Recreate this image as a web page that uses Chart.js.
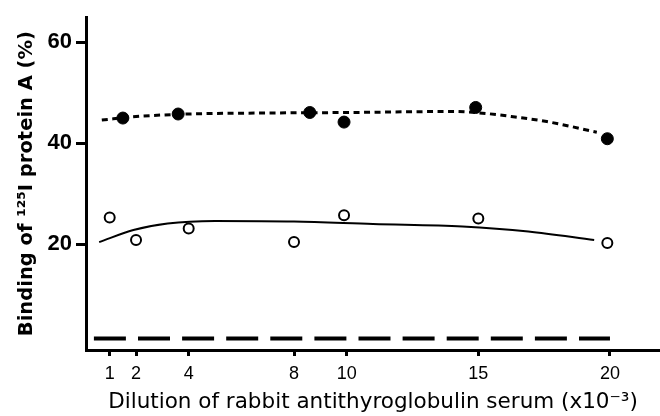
<!DOCTYPE html>
<html>
<head>
<meta charset="utf-8">
<script src="https://cdn.jsdelivr.net/npm/chart.js@4.4.0/dist/chart.umd.min.js"></script>
<style>
html, body { margin:0; padding:0; background:#fff; }
#wrap { width:660px; height:416px; }
</style>
</head>
<body>
<div id="wrap"><canvas id="myChart"></canvas></div>
<script>
// tick labels
var xTicks = [1, 2, 4, 8, 10, 15, 20];
var yTicks = [20, 40, 60];

// filled circles
var xFilled = [1.5, 3.6, 8.6, 9.9, 14.9, 19.9];
var yFilled = [45.0, 45.8, 46.1, 44.2, 47.1, 40.9];

// open circles
var xOpen = [1, 2, 4, 8, 9.9, 15, 19.9];
var yOpen = [25.3, 20.8, 23.1, 20.4, 25.7, 25.1, 20.2];

// dotted fitted curve
var xDotted = [0.7, 2, 4, 7, 10, 14, 15.3, 16.4, 17.6, 19.5];
var yDotted = [44.6, 45.3, 45.8, 46.0, 46.1, 46.3, 45.9, 45.2, 44.3, 42.2];

// solid fitted curve
var xSolid = [0.6, 1.9, 3.2, 5, 8, 11, 14.4, 16.9, 19.4];
var ySolid = [20.4, 22.8, 24.1, 24.6, 24.5, 24.0, 23.5, 22.5, 20.8];

// dashed baseline
var xBase = [0.4, 20];
var yBase = [1.3, 1.3];

function pts(xs, ys) {
    return xs.map(function(x, i) { return {x: x, y: ys[i]}; });
}

const ctx = document.getElementById('myChart').getContext('2d');
const myChart = new Chart(ctx, {
    type: 'scatter',
    data: {
        datasets: [
            {
                data: pts(xFilled, yFilled),
                pointRadius: 6,
                backgroundColor: '#000',
                borderColor: '#000',
                borderWidth: 1
            },
            {
                data: pts(xOpen, yOpen),
                pointRadius: 5,
                backgroundColor: '#fff',
                borderColor: '#000',
                borderWidth: 2
            },
            {
                data: pts(xDotted, yDotted),
                showLine: true,
                pointRadius: 0,
                borderColor: '#000',
                borderWidth: 3,
                borderDash: [6, 4.5],
                cubicInterpolationMode: 'monotone'
            },
            {
                data: pts(xSolid, ySolid),
                showLine: true,
                pointRadius: 0,
                borderColor: '#000',
                borderWidth: 2,
                cubicInterpolationMode: 'monotone'
            },
            {
                data: pts(xBase, yBase),
                showLine: true,
                pointRadius: 0,
                borderColor: '#000',
                borderWidth: 4,
                borderDash: [32, 12.1]
            }
        ]
    },
    options: {
        responsive: true,
        maintainAspectRatio: false,
        animation: false,
        layout: { autoPadding: false, padding: { top: 13, right: 0, left: 0, bottom: 0 } },
        plugins: {
            legend: { display: false },
            tooltip: { enabled: false }
        },
        scales: {
            x: {
                type: 'linear',
                min: 0.1,
                max: 21.9,
                afterBuildTicks: function(scale) {
                    scale.ticks = xTicks.map(function(v) { return {value: v}; });
                },
                afterFit: function(scale) { scale.height = 66; },
                ticks: {
                    color: '#000',
                    font: { family: 'Liberation Sans', size: 18 },
                    padding: 7,
                    maxRotation: 0,
                    autoSkip: false
                },
                grid: {
                    drawOnChartArea: false,
                    drawTicks: true,
                    tickLength: 6,
                    tickWidth: 3,
                    tickColor: '#000'
                },
                border: { display: true, width: 3, color: '#000' },
                title: {
                    display: true,
                    text: 'Dilution of rabbit antithyroglobulin serum (x10\u207B\u00B3)',
                    color: '#000',
                    font: { family: 'DejaVu Sans', size: 21.5 },
                    padding: { top: 0, bottom: 1 }
                }
            },
            y: {
                min: -1,
                max: 65,
                afterBuildTicks: function(scale) {
                    scale.ticks = yTicks.map(function(v) { return {value: v}; });
                },
                afterFit: function(scale) { scale.width = 86; },
                ticks: {
                    color: '#000',
                    font: { family: 'Liberation Sans', size: 22, weight: 'bold' },
                    padding: 4
                },
                grid: {
                    drawOnChartArea: false,
                    drawTicks: true,
                    tickLength: 10,
                    tickWidth: 3,
                    tickColor: '#000'
                },
                border: { display: true, width: 3, color: '#000' },
                title: {
                    display: true,
                    text: 'Binding of \u00B9\u00B2\u2075I protein A (%)',
                    color: '#000',
                    font: { family: 'DejaVu Sans', size: 19.5, weight: 'bold' },
                    padding: { top: 15, bottom: 0 }
                }
            }
        }
    }
});
</script>
</body>
</html>
